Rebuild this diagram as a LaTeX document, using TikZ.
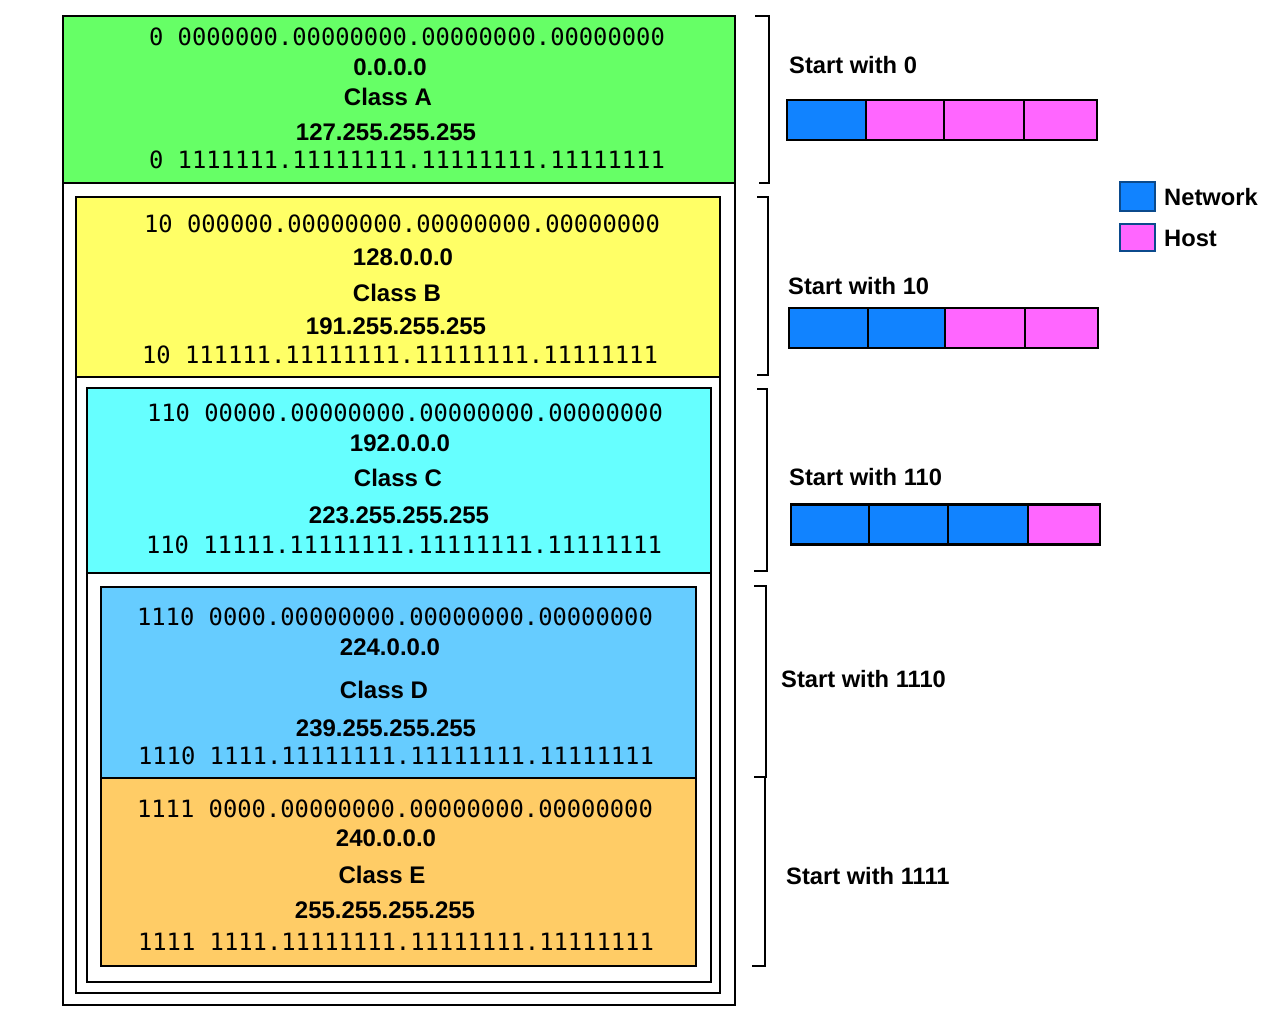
\documentclass[tikz,border=0pt]{standalone}
\usepackage{fontspec}
\setmainfont{Liberation Sans}
\newfontfamily\monof{DejaVu Sans Mono}
\definecolor{cA}{HTML}{66FF66}
\definecolor{cB}{HTML}{FFFF66}
\definecolor{cC}{HTML}{66FFFF}
\definecolor{cD}{HTML}{66CCFF}
\definecolor{cE}{HTML}{FFCC66}
\definecolor{netc}{HTML}{1183FF}
\definecolor{hostc}{HTML}{FF66FF}
\definecolor{legb}{HTML}{0B4A8C}
\begin{document}
\begin{tikzpicture}[x=1pt,y=-1pt,
  frm/.style={draw=black, line width=2.4pt, fill=white, inner sep=0pt},
  cls/.style={draw=black, line width=2.4pt, inner sep=0pt},
  bin/.style={font=\monof\fontsize{23.8}{26}\selectfont, inner sep=0pt},
  lab/.style={font=\bfseries\fontsize{24}{26}\selectfont, inner sep=0pt},
  stl/.style={font=\bfseries\fontsize{23.7}{26}\selectfont, inner sep=0pt, anchor=west},
  seg/.style={draw=black, line width=2.4pt, inner sep=0pt, minimum height=40},
  leg/.style={draw=legb, line width=2pt, inner sep=0pt, minimum width=35},
  brk/.style={line width=2.4pt}
]
\useasboundingbox (0,0) rectangle (1280,1024);
% frames and class boxes
\node[frm, minimum width=672, minimum height=989] (outer) at (399,510.5) {};
\node[cls, fill=cA, minimum width=672, minimum height=167] (boxA) at (399,99.5) {};
\node[frm, minimum width=644, minimum height=796] (frameB) at (398,595) {};
\node[cls, fill=cB, minimum width=644, minimum height=180] (boxB) at (398,287) {};
\node[frm, minimum width=624, minimum height=594] (frameC) at (399,685) {};
\node[cls, fill=cC, minimum width=624, minimum height=185] (boxC) at (399,480.5) {};
\node[frm, minimum width=595, minimum height=379] (frameD) at (398.5,776.5) {};
\node[cls, fill=cD, minimum width=595, minimum height=191] (boxD) at (398.5,682.5) {};
\node[cls, fill=cE, minimum width=595, minimum height=188] (boxE) at (398.5,872) {};
% Class A
\node[bin] (a1) at (407,37) {0 0000000.00000000.00000000.00000000};
\node[lab] (a2) at (390,67) {0.0.0.0};
\node[lab] (a3) at (388,97) {Class A};
\node[lab] (a4) at (386,132) {127.255.255.255};
\node[bin] (a5) at (407,160) {0 1111111.11111111.11111111.11111111};
% Class B
\node[bin] (b1) at (402,224) {10 000000.00000000.00000000.00000000};
\node[lab] (b2) at (403,257) {128.0.0.0};
\node[lab] (b3) at (397,293) {Class B};
\node[lab] (b4) at (396,326) {191.255.255.255};
\node[bin] (b5) at (400,355) {10 111111.11111111.11111111.11111111};
% Class C
\node[bin] (c1) at (405,413) {110 00000.00000000.00000000.00000000};
\node[lab] (c2) at (400,443) {192.0.0.0};
\node[lab] (c3) at (398,478) {Class C};
\node[lab] (c4) at (399,515) {223.255.255.255};
\node[bin] (c5) at (404,545) {110 11111.11111111.11111111.11111111};
% Class D
\node[bin] (d1) at (395,617) {1110 0000.00000000.00000000.00000000};
\node[lab] (d2) at (390,647) {224.0.0.0};
\node[lab] (d3) at (384,690) {Class D};
\node[lab] (d4) at (386,728) {239.255.255.255};
\node[bin] (d5) at (396,756) {1110 1111.11111111.11111111.11111111};
% Class E
\node[bin] (e1) at (395,809) {1111 0000.00000000.00000000.00000000};
\node[lab] (e2) at (386,838) {240.0.0.0};
\node[lab] (e3) at (382,875) {Class E};
\node[lab] (e4) at (385,910) {255.255.255.255};
\node[bin] (e5) at (396,942) {1111 1111.11111111.11111111.11111111};
% brackets
\coordinate (ka1) at (755,16); \coordinate (ka2) at (769,16);
\coordinate (ka3) at (769,183); \coordinate (ka4) at (759,183);
\draw[brk] (ka1) -- (ka2) -- (ka3) -- (ka4);
\coordinate (kb1) at (757,197); \coordinate (kb2) at (768,197);
\coordinate (kb3) at (768,375); \coordinate (kb4) at (757,375);
\draw[brk] (kb1) -- (kb2) -- (kb3) -- (kb4);
\coordinate (kc1) at (757,389); \coordinate (kc2) at (767,389);
\coordinate (kc3) at (767,571); \coordinate (kc4) at (754,571);
\draw[brk] (kc1) -- (kc2) -- (kc3) -- (kc4);
\coordinate (kd1) at (754,586); \coordinate (kd2) at (766,586);
\coordinate (kd3) at (766,777); \coordinate (kd4) at (754,777);
\draw[brk] (kd1) -- (kd2) -- (kd3) -- (kd4);
\coordinate (ke1) at (765,777); \coordinate (ke2) at (765,966);
\coordinate (ke3) at (752,966);
\draw[brk] (ke1) -- (ke2) -- (ke3);
% start labels
\node[stl] (sA) at (789,65) {Start with 0};
\node[stl] (sB) at (788,286) {Start with 10};
\node[stl] (sC) at (789,477) {Start with 110};
\node[stl] (sD) at (781,679) {Start with 1110};
\node[stl] (sE) at (786,876) {Start with 1111};
% bars
\node[seg, fill=netc, minimum width=79] (pa1) at (826.5,120) {};
\node[seg, fill=hostc, minimum width=78] (pa2) at (905,120) {};
\node[seg, fill=hostc, minimum width=80] (pa3) at (984,120) {};
\node[seg, fill=hostc, minimum width=73] (pa4) at (1060.5,120) {};
\node[seg, fill=netc, minimum width=79] (pb1) at (828.5,328) {};
\node[seg, fill=netc, minimum width=77] (pb2) at (906.5,328) {};
\node[seg, fill=hostc, minimum width=80] (pb3) at (985,328) {};
\node[seg, fill=hostc, minimum width=73] (pb4) at (1061.5,328) {};
\node[seg, fill=netc, minimum width=78] (pc1) at (830,524.5) {};
\node[seg, fill=netc, minimum width=79] (pc2) at (908.5,524.5) {};
\node[seg, fill=netc, minimum width=80] (pc3) at (988,524.5) {};
\node[seg, fill=hostc, minimum width=72] (pc4) at (1064,524.5) {};
% legend
\node[leg, fill=netc, minimum height=29] (lnet) at (1137.5,197) {};
\node[leg, fill=hostc, minimum height=27] (lhost) at (1137.5,237.5) {};
\node[stl] (tnet) at (1164,197) {Network};
\node[stl] (thost) at (1164,238) {Host};
\end{tikzpicture}
\end{document}
